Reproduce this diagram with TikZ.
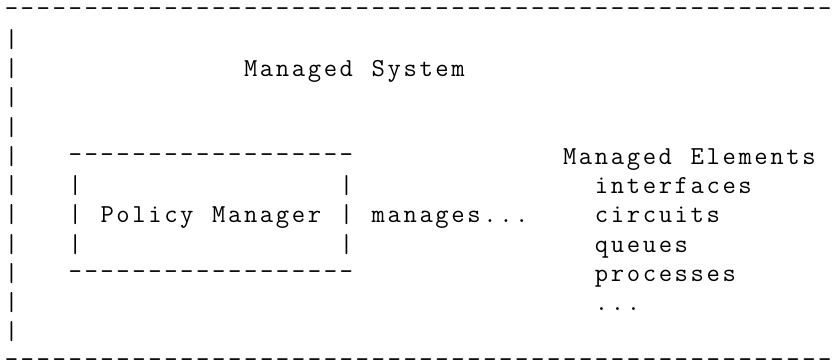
\documentclass[tikz,border=0pt]{standalone}
\usepackage{fontspec}
\newlength\cw
\setlength\cw{15.95bp}
% typeset a word character by character on a fixed grid
\def\cb#1{\ifx#1\relax\else\makebox[\cw][c]{#1}\expandafter\cb\fi}
% ASCII-art glyphs placed on the same grid
\newcommand\hy{\raisebox{2bp}{-}}
\newcommand\br{|}
\newcommand\dashes[1]{\foreach \i in {1,...,#1}{\makebox[\cw][c]{\hy}}}
\tikzset{
  asc/.style={inner sep=0pt, outer sep=0pt, anchor=base west,
    font=\ttfamily\fontsize{26}{30}\selectfont}
}
\begin{document}
\begin{tikzpicture}[x=1bp,y=-1bp]
\useasboundingbox (0,0) rectangle (838,361);
% outer frame
\node[asc] (top) at (3.5,18) {\dashes{52}};
\foreach \r in {1,...,11}
  \node[asc] (lp\r) at (3.5,{18+29.25*\r}) {\makebox[\cw][c]{\br}};
\node[asc] (bot) at (3.5,{18+29.25*12}) {\dashes{52}};
% title
\node[asc] (title) at ({3.5+15.95*15},{18+29.25*2}) {\cb Managed~System\relax};
% policy manager box
\node[asc] (pmtop) at ({3.5+15.95*4},{18+29.25*5}) {\dashes{18}};
\node[asc] (pmbot) at ({3.5+15.95*4},{18+29.25*9}) {\dashes{18}};
\foreach \r in {6,7,8}{
  \node[asc] (pl\r) at ({3.5+15.95*4},{18+29.25*\r}) {\makebox[\cw][c]{\br}};
  \node[asc] (pr\r) at ({3.5+15.95*21},{18+29.25*\r}) {\makebox[\cw][c]{\br}};
}
\node[asc] (pm) at ({3.5+15.95*6},{18+29.25*7}) {\cb Policy~Manager\relax};
\node[asc] (mg) at ({3.5+15.95*23},{18+29.25*7}) {\cb manages...\relax};
% managed elements
\node[asc] (me) at ({3.5+15.95*35},{18+29.25*5}) {\cb Managed~Elements\relax};
\node[asc] (e1) at ({3.5+15.95*37},{18+29.25*6}) {\cb interfaces\relax};
\node[asc] (e2) at ({3.5+15.95*37},{18+29.25*7}) {\cb circuits\relax};
\node[asc] (e3) at ({3.5+15.95*37},{18+29.25*8}) {\cb queues\relax};
\node[asc] (e4) at ({3.5+15.95*37},{18+29.25*9}) {\cb processes\relax};
\node[asc] (e5) at ({3.5+15.95*37},{18+29.25*10}) {\cb ...\relax};
\end{tikzpicture}
\end{document}
